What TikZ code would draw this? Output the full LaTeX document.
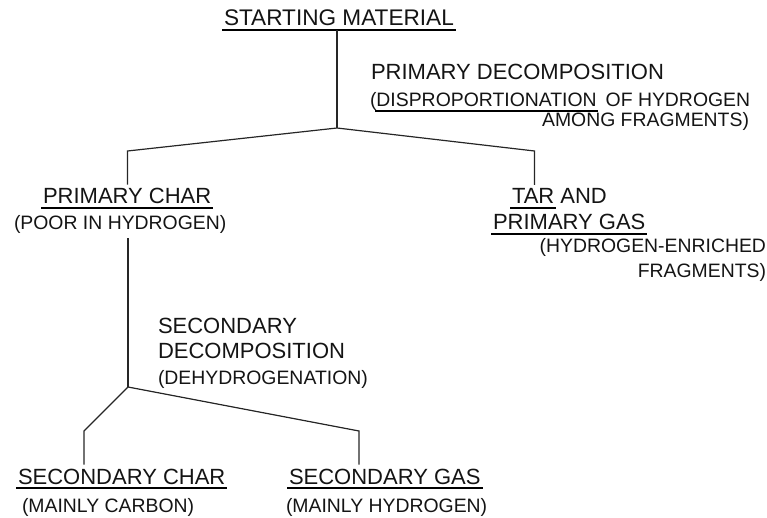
\documentclass[tikz,border=0pt]{standalone}
\usepackage{fontspec}
\setmainfont{Liberation Sans}
\begin{document}
\begin{tikzpicture}[x=1pt,y=-1pt,
  txt/.style={inner sep=0pt,outer sep=0pt,text=black!92},
  head/.style={txt,font=\fontsize{22}{24}\selectfont},
  par/.style={txt,font=\fontsize{19.4}{22}\selectfont},
  conn/.style={line width=1.2pt,black!85},
  ul/.style={line width=2pt,black}]
\useasboundingbox (0,0) rectangle (767,518);
% texts
\node[txt,font=\fontsize{22.6}{24}\selectfont,anchor=base west] (sm) at (224,26) {STARTING MATERIAL};
\node[head,anchor=base west] (pd1) at (371,79.5) {PRIMARY DECOMPOSITION};
\node[par,anchor=base west] (pd2a) at (370,107) {(};
\node[par,anchor=base west] (pd2b) at (pd2a.base east) {DISPROPORTIONATION};
\node[par,anchor=base west] (pd2c) at ([xshift=9pt]pd2b.base east) {OF HYDROGEN};
\node[par,anchor=base east] (pd3) at (749,127) {AMONG FRAGMENTS)};
\node[head,anchor=base west] (pc) at (43,204) {PRIMARY CHAR};
\node[par,anchor=base west] (pc2) at (14,230) {(POOR IN HYDROGEN)};
\node[head,anchor=base west] (tar) at (512,204) {TAR};
\node[head,anchor=base west] (and) at ([xshift=6pt]tar.base east) {AND};
\node[head,anchor=base west] (pg) at (493,230) {PRIMARY GAS};
\node[par,anchor=base east] (he1) at (766,253) {(HYDROGEN-ENRICHED};
\node[par,anchor=base east] (he2) at (766,277) {FRAGMENTS)};
\node[head,anchor=base west] (sd1) at (158,333) {SECONDARY};
\node[head,anchor=base west] (sd2) at (158,358) {DECOMPOSITION};
\node[par,anchor=base west] (sd3) at (158,384) {(DEHYDROGENATION)};
\node[head,anchor=base west] (sc) at (18,484) {SECONDARY CHAR};
\node[par,anchor=base west] (mc) at (22,512) {(MAINLY CARBON)};
\node[head,anchor=base west] (sg) at (289,484) {SECONDARY GAS};
\node[par,anchor=base west] (mh) at (286,512) {(MAINLY HYDROGEN)};
% underlines
\foreach \n in {sm,pc,tar,pg,sc,sg}
  \draw[ul] ([xshift=-2pt,yshift=-4pt]\n.base west) -- ([xshift=2pt,yshift=-4pt]\n.base east);
\draw[ul] ([xshift=-1pt,yshift=-4pt]pd2b.base west) -- ([xshift=1pt,yshift=-4pt]pd2b.base east);
% junctions
\coordinate (j1) at (337,128);
\coordinate (c1L) at (127.5,151);
\coordinate (c1R) at (534.5,151);
\coordinate (j2) at (128,387);
\coordinate (c2L) at (84,431);
\coordinate (c2R) at (359,431);
\coordinate (smb) at ([yshift=-4pt]sm.base);
\coordinate (pctop) at ([yshift=4pt]pc.north);
\coordinate (tartop) at ([yshift=4pt]tar.north);
\coordinate (pcbot) at ([yshift=-4pt]pc2.south);
\coordinate (sctop) at ([yshift=4pt]sc.north);
\coordinate (sgtop) at ([yshift=4pt]sg.north);
% connectors
\draw[conn] (smb -| j1) -- (j1);
\draw[conn] (j1) -- (c1L) -- (pctop -| c1L);
\draw[conn] (j1) -- (c1R) -- (tartop -| c1R);
\draw[conn] (pcbot -| j2) -- (j2);
\draw[conn] (j2) -- (c2L) -- (sctop -| c2L);
\draw[conn] (j2) -- (c2R) -- (sgtop -| c2R);
\end{tikzpicture}
\end{document}
